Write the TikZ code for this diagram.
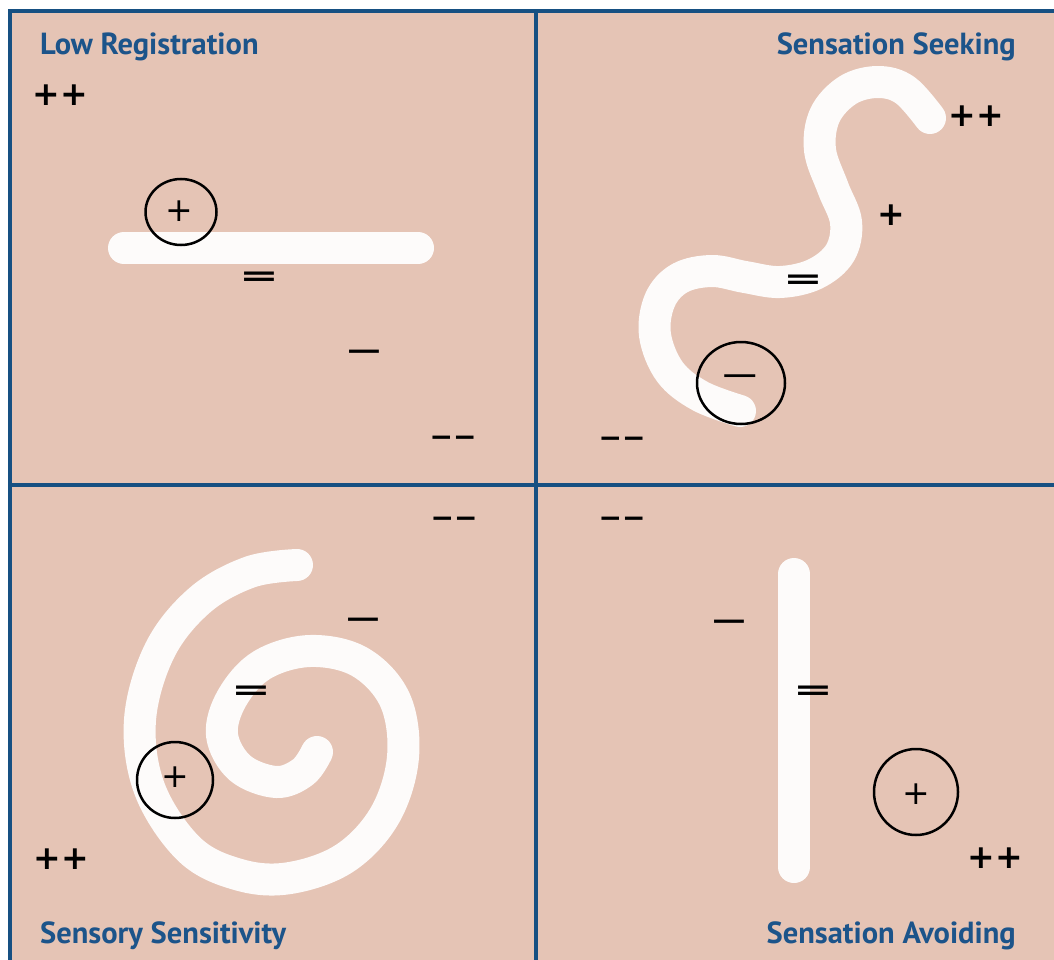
\documentclass[tikz,border=0pt]{standalone}
\usepackage{fontspec}
\setmainfont{PT Sans}
\newfontfamily\symfont{DejaVu Sans}
\usetikzlibrary{shapes.geometric}
\definecolor{peach}{RGB}{229,196,181}
\definecolor{frameblue}{RGB}{22,80,130}
\definecolor{titleblue}{RGB}{28,84,138}
\definecolor{bandwhite}{RGB}{253,251,250}
\begin{document}
\begin{tikzpicture}[x=1pt,y=-1pt,
  title/.style={font=\fontsize{30.5}{30.5}\selectfont\bfseries, text=titleblue, inner sep=0pt},
  band/.style={draw=bandwhite, line width=32pt, line cap=round, line join=round},
  sym/.style={font=\symfont\bfseries\fontsize{28}{28}\selectfont, inner sep=0pt},
  bigsym/.style={font=\symfont\bfseries\fontsize{33}{33}\selectfont, inner sep=0pt},
  thinsym/.style={font=\symfont\fontsize{33}{33}\selectfont, inner sep=0pt},
  ring/.style={ellipse, draw=black, line width=2.5pt, inner sep=0pt},
  frame/.style={draw=frameblue, line width=4pt}]
\useasboundingbox (0,0) rectangle (1054,960);
\clip (0,0) rectangle (1054,960);
\fill[white] (0,0) rectangle (1054,960);
\fill[peach] (10,11) rectangle (1060,970);
% frame
\draw[frame] (10,970) -- (10,11) -- (1060,11);
\draw[frame] (536,11) -- (536,970);
\draw[frame] (10,485) -- (1060,485);

% Q1 Low Registration
\draw[band] (124,248) -- (418,248);
\node[title, anchor=base west] (t1) at (40,55) {Low Registration};
\node[bigsym] (a1) at (60,95) {++};
\node[ring, minimum width=71pt, minimum height=66pt] (c1) at (181,212) {};
\node[thinsym] (p1) at (179,211) {+};
\node[sym] (e1) at (259,279) {\scalebox{1.7}[1]{=}};
\node[sym] (m1) at (364,355) {\scalebox{1.7}[1]{−}};
\node[sym] (mm1) at (453,441) {−−};

% Q2 Sensation Seeking
\draw[band] plot[smooth, tension=0.6] coordinates {
 (930,118) (905,90) (878,82) (848,90) (825,115) (820,150) (833,188)
 (846,222) (840,253) (815,274) (780,282) (745,277) (712,271)
 (680,278) (660,300) (655,335) (670,372) (700,396) (740,411)};
\node[title, anchor=base east] (t2) at (1016,55) {Sensation Seeking};
\node[bigsym] (a2) at (976,116) {++};
\node[bigsym] (p2) at (891,215) {+};
\node[sym] (e2) at (803,282) {\scalebox{1.7}[1]{=}};
\node[ring, minimum width=88pt, minimum height=82pt] (c2) at (741,383) {};
\node[thinsym] (m2) at (740,381) {\scalebox{1.5}[1]{−}};
\node[sym] (mm2) at (622,442) {−−};

% Q3 Sensory Sensitivity
\draw[band] plot[smooth, tension=0.6] coordinates {
 (297,565) (250,572) (200,600) (160,650) (140,720) (150,790) (190,850)
 (240,875) (290,878) (345,858) (385,815) (403,757) (395,700) (360,662)
 (310,651) (262,665) (232,698) (222,735) (240,768) (276,782) (303,772) (317,752)};
\node[title, anchor=base west] (t3) at (40,943) {Sensory Sensitivity};
\node[sym] (mm3) at (454,522) {−−};
\node[sym] (m3) at (363,623) {\scalebox{1.7}[1]{−}};
\node[sym] (e3) at (251,693) {\scalebox{1.7}[1]{=}};
\node[ring, minimum width=76pt, minimum height=76pt] (c3) at (175,780) {};
\node[thinsym] (p3) at (175,777) {+};
\node[bigsym] (a3) at (61,859) {++};

% Q4 Sensation Avoiding
\draw[band] (794,574) -- (794,867);
\node[title, anchor=base east] (t4) at (1016,943) {Sensation Avoiding};
\node[sym] (mm4) at (622,522) {−−};
\node[sym] (m4) at (729,625) {\scalebox{1.7}[1]{−}};
\node[sym] (e4) at (813,693) {\scalebox{1.7}[1]{=}};
\node[ring, minimum width=84pt, minimum height=86pt] (c4) at (916,792) {};
\node[thinsym] (p4) at (916,794) {+};
\node[bigsym] (a4) at (995,858) {++};
\end{tikzpicture}
\end{document}
